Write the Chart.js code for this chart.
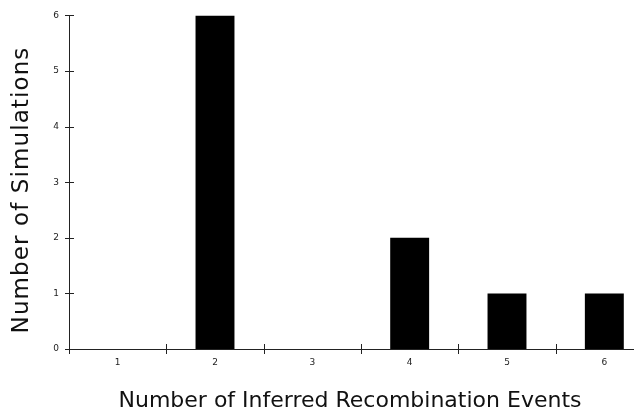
<!DOCTYPE html>
<html>
<head>
<meta charset="utf-8">
<script src="https://cdn.jsdelivr.net/npm/chart.js@4"></script>
<style>
    html, body { margin: 0; padding: 0; background: #fff; overflow: hidden; }
    #wrap { position: absolute; left: 0; top: 0; width: 660px; height: 411px; }
</style>
</head>
<body>
<div id="wrap"><canvas id="recombChart"></canvas></div>
<script>
const categories = ["1", "2", "3", "4", "5", "6"];
const simulations = [0, 6, 0, 2, 1, 1];
const yTickValues = [0, 1, 2, 3, 4, 5, 6];
const xTitle = "Number of Inferred Recombination Events";
const yTitle = "Number of Simulations";

// ticks that cross the axis lines + the two axis titles, placed like the original figure
const figureDecor = {
    id: "figureDecor",
    afterDraw(chart) {
        const ctx = chart.ctx;
        const x = chart.scales.x;
        const y = chart.scales.y;
        ctx.save();
        ctx.strokeStyle = "#222";
        ctx.lineWidth = 1;
        ctx.beginPath();
        yTickValues.forEach(v => {
            const py = Math.round(y.getPixelForValue(v)) + 0.5;
            ctx.moveTo(x.left - 4, py);
            ctx.lineTo(x.left + 5, py);
        });
        for (let i = 0; i <= categories.length; i++) {
            const px = Math.round(x.getPixelForValue(i - 0.5)) + 0.5;
            ctx.moveTo(px, y.bottom - 5);
            ctx.lineTo(px, y.bottom + 5);
        }
        ctx.stroke();

        ctx.fillStyle = "#111";
        ctx.textAlign = "center";
        ctx.textBaseline = "alphabetic";
        ctx.font = "22px 'DejaVu Sans'";
        ctx.fillText(xTitle, 350, 407);

        ctx.translate(28, 190);
        ctx.rotate(-Math.PI / 2);
        ctx.font = "23px 'DejaVu Sans'";
        ctx.letterSpacing = "1.1px";
        ctx.fillText(yTitle, 0, 0);
        ctx.restore();
    }
};

document.addEventListener("DOMContentLoaded", () => {
    const ctx = document.getElementById("recombChart").getContext("2d");
    new Chart(ctx, {
        type: "bar",
        data: {
            labels: categories,
            datasets: [{
                data: simulations,
                backgroundColor: "#000",
                borderWidth: 0,
                barPercentage: 0.4,
                categoryPercentage: 1.0,
            }],
        },
        options: {
            responsive: true,
            maintainAspectRatio: false,
            animation: false,
            layout: { padding: { top: 15, right: 7, left: 0, bottom: 0 } },
            plugins: { legend: { display: false }, tooltip: { enabled: false } },
            scales: {
                y: {
                    min: 0,
                    max: 6,
                    afterFit: s => { s.width = 69; },
                    afterBuildTicks: s => { s.ticks = yTickValues.map(v => ({ value: v })); },
                    border: { color: "#222", width: 1 },
                    grid: { display: false, drawTicks: false },
                    ticks: {
                        color: "#222",
                        padding: 10,
                        font: { family: "DejaVu Sans", size: 9 },
                    },
                },
                x: {
                    afterFit: s => { s.height = 62; },
                    border: { color: "#222", width: 1 },
                    grid: { display: false, drawTicks: false },
                    ticks: {
                        color: "#222",
                        padding: 8,
                        font: { family: "DejaVu Sans", size: 9 },
                    },
                },
            },
        },
        plugins: [figureDecor],
    });
});
</script>
</body>
</html>
